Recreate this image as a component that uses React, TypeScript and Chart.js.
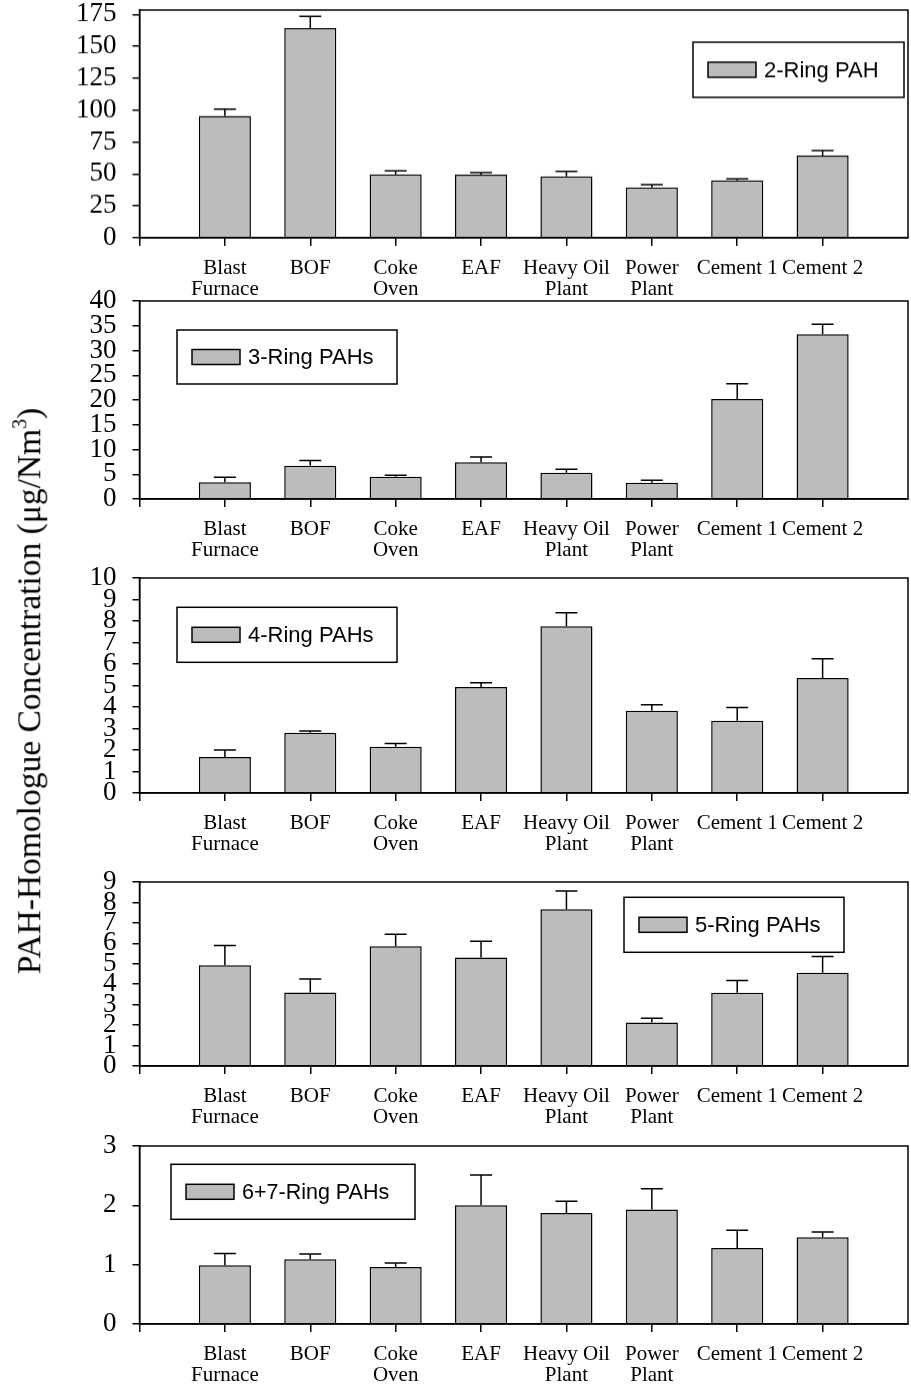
import React, { useEffect, useRef } from 'react';
import { Chart, registerables } from 'chart.js';

Chart.register(...registerables);

// ---------- data ----------
const categories = ['Blast Furnace', 'BOF', 'Coke Oven', 'EAF', 'Heavy Oil Plant', 'Power Plant', 'Cement 1', 'Cement 2'];
const categoryLines = [['Blast', 'Furnace'], ['BOF'], ['Coke', 'Oven'], ['EAF'], ['Heavy Oil', 'Plant'], ['Power', 'Plant'], ['Cement 1'], ['Cement 2']];

const ring2Values = [95.5, 164.3, 49.8, 49.5, 48.2, 39.4, 44.9, 64.5];
const ring2Errors = [5.3, 9.2, 2.6, 1.5, 3.8, 2.3, 1.2, 3.9];
const ring3Values = [3.4, 6.7, 4.5, 7.4, 5.3, 3.3, 20.2, 33.3];
const ring3Errors = [1.0, 1.1, 0.3, 1.1, 0.7, 0.5, 3.1, 2.0];
const ring4Values = [1.68, 2.8, 2.15, 4.93, 7.76, 3.82, 3.36, 5.35];
const ring4Errors = [0.32, 0.08, 0.15, 0.2, 0.62, 0.28, 0.62, 0.9];
const ring5Values = [4.93, 3.6, 5.86, 5.31, 7.67, 2.13, 3.58, 4.56];
const ring5Errors = [0.97, 0.65, 0.59, 0.79, 0.89, 0.2, 0.6, 0.8];
const ring67Values = [0.99, 1.09, 0.96, 2.0, 1.87, 1.93, 1.28, 1.46];
const ring67Errors = [0.2, 0.09, 0.07, 0.51, 0.2, 0.35, 0.3, 0.09];

const ticks2 = [0, 25, 50, 75, 100, 125, 150, 175];
const ticks3 = [0, 5, 10, 15, 20, 25, 30, 35, 40];
const ticks4 = [0, 1, 2, 3, 4, 5, 6, 7, 8, 9, 10];
const ticks5 = [0, 1, 2, 3, 4, 5, 6, 7, 8, 9];
const ticks67 = [0, 1, 2, 3];

const legend2 = '2-Ring PAH';
const legend3 = '3-Ring PAHs';
const legend4 = '4-Ring PAHs';
const legend5 = '5-Ring PAHs';
const legend67 = '6+7-Ring PAHs';

// ---------- styling / layout ----------
const BAR_FILL = '#bcbcbc';
const SERIF = '"Liberation Serif", "Times New Roman", Times, serif';
const SANS = '"Liberation Sans", Arial, Helvetica, sans-serif';
const PLOT_LEFT = 139.5;
const PLOT_RIGHT = 908;
const PAGE_W = 911;
const PAD_TOP = 16;
const XAXIS_H = 62;

type PanelDef = {
  values: number[];
  errors: number[];
  ticks: number[];
  yMax: number;
  top: number;
  bottom: number;
  legend: string;
  lg: { dx: number; dy: number; w: number; h: number };
};

const panels: PanelDef[] = [
  { values: ring2Values, errors: ring2Errors, ticks: ticks2, yMax: 178.4, top: 10, bottom: 237.5, legend: legend2, lg: { dx: 553.5, dy: 32, w: 211, h: 55 } },
  { values: ring3Values, errors: ring3Errors, ticks: ticks3, yMax: 40, top: 300.7, bottom: 499.3, legend: legend3, lg: { dx: 37.5, dy: 29, w: 220, h: 54 } },
  { values: ring4Values, errors: ring4Errors, ticks: ticks4, yMax: 10, top: 577.7, bottom: 793.3, legend: legend4, lg: { dx: 37.5, dy: 29.3, w: 220, h: 55 } },
  { values: ring5Values, errors: ring5Errors, ticks: ticks5, yMax: 9, top: 881.7, bottom: 1066, legend: legend5, lg: { dx: 484.5, dy: 15.3, w: 220, h: 55 } },
  { values: ring67Values, errors: ring67Errors, ticks: ticks67, yMax: 3, top: 1145.7, bottom: 1324, legend: legend67, lg: { dx: 31.5, dy: 18.3, w: 244, h: 55 } },
];

const decorPlugin = {
  id: 'decor',
  afterDatasetsDraw(chart: any) {
    const opts = chart.options.plugins.decor;
    const ctx = chart.ctx;
    const meta = chart.getDatasetMeta(0);
    const ds = chart.data.datasets[0];
    const yScale = chart.scales.y;
    ctx.save();
    ctx.strokeStyle = '#000';
    ctx.lineWidth = 1.5;
    (ds.errors as number[]).forEach((e, i) => {
      const idx = i + 1;
      const el = meta.data[idx];
      const v = ds.data[idx];
      if (!el || v == null) return;
      const x = el.x;
      const yTop = yScale.getPixelForValue(v + e);
      const yBar = yScale.getPixelForValue(v);
      ctx.beginPath();
      ctx.moveTo(x, yBar);
      ctx.lineTo(x, yTop);
      ctx.moveTo(x - 11, yTop);
      ctx.lineTo(x + 11, yTop);
      ctx.stroke();
    });
    // legend box
    const a = chart.chartArea;
    const lg = opts.lg;
    const bx = a.left + lg.dx;
    const by = a.top + lg.dy;
    ctx.fillStyle = '#fff';
    ctx.fillRect(bx, by, lg.w, lg.h);
    ctx.strokeRect(bx, by, lg.w, lg.h);
    const sx = bx + 15;
    const sy = by + lg.h / 2 - 7.5;
    ctx.fillStyle = BAR_FILL;
    ctx.fillRect(sx, sy, 48, 15);
    ctx.strokeRect(sx, sy, 48, 15);
    ctx.fillStyle = '#000';
    ctx.font = `${opts.fontSize}px ${SANS}`;
    ctx.textBaseline = 'middle';
    ctx.textAlign = 'left';
    ctx.fillText(opts.label, sx + 56, by + lg.h / 2 + 1);
    ctx.restore();
  },
  afterDraw(chart: any) {
    const a = chart.chartArea;
    const ctx = chart.ctx;
    ctx.save();
    ctx.strokeStyle = '#000';
    ctx.lineWidth = 1.5;
    ctx.strokeRect(a.left, a.top, a.right - a.left, a.bottom - a.top);
    ctx.restore();
  },
};

function Panel({ def }: { def: PanelDef }) {
  const ref = useRef<HTMLCanvasElement>(null);
  const height = PAD_TOP + (def.bottom - def.top) + XAXIS_H;
  useEffect(() => {
    if (!ref.current) return;
    const labels = ['', ...categoryLines, ''];
    const data = [null, ...def.values, null];
    const chart = new Chart(ref.current, {
      type: 'bar',
      data: {
        labels,
        datasets: [
          {
            data,
            errors: def.errors,
            backgroundColor: BAR_FILL,
            borderColor: '#000',
            borderWidth: 1.5,
            barPercentage: 0.61,
            categoryPercentage: 1,
          } as any,
        ],
      },
      options: {
        animation: false,
        responsive: false,
        devicePixelRatio: 1,
        layout: { padding: { left: 0, right: PAGE_W - PLOT_RIGHT, top: PAD_TOP, bottom: 0 } },
        plugins: {
          legend: { display: false },
          tooltip: { enabled: false },
          decor: { lg: def.lg, label: def.legend, fontSize: def.legend.length > 12 ? 21.5 : 22 },
        } as any,
        scales: {
          x: {
            type: 'category',
            offset: false,
            grid: {
              offset: false,
              drawOnChartArea: false,
              drawTicks: true,
              tickLength: 8,
              lineWidth: 1.5,
              color: (c: any) => (c.index === 9 ? 'rgba(0,0,0,0)' : '#000'),
            },
            border: { display: true, color: '#000', width: 1.5 },
            ticks: {
              autoSkip: false,
              maxRotation: 0,
              minRotation: 0,
              padding: 12,
              color: '#000',
              font: { family: SERIF, size: 21, lineHeight: 1.0 },
            },
            afterFit: (s: any) => {
              s.height = XAXIS_H;
              s.paddingLeft = 0;
              s.paddingRight = 0;
              s.paddingTop = 0;
              s.paddingBottom = 0;
            },
          },
          y: {
            type: 'linear',
            min: 0,
            max: def.yMax,
            grid: {
              drawOnChartArea: false,
              drawTicks: true,
              tickLength: 7,
              lineWidth: 1.5,
              color: '#000',
            },
            border: { display: true, color: '#000', width: 1.5 },
            ticks: {
              autoSkip: false,
              padding: 16,
              color: '#000',
              font: { family: SERIF, size: 27 },
            },
            afterBuildTicks: (s: any) => {
              s.ticks = def.ticks.map((v) => ({ value: v }));
            },
            afterFit: (s: any) => {
              s.width = PLOT_LEFT;
              s.paddingTop = 0;
              s.paddingBottom = 0;
              s.paddingLeft = 0;
              s.paddingRight = 0;
            },
          },
        },
      } as any,
      plugins: [decorPlugin],
    });
    return () => chart.destroy();
  }, [def]);
  return (
    <canvas
      ref={ref}
      width={PAGE_W}
      height={height}
      style={{ position: 'absolute', left: 0, top: def.top - PAD_TOP, width: PAGE_W, height }}
    />
  );
}

export default function App() {
  return (
    <div style={{ position: 'absolute', left: 0, top: 0, width: PAGE_W, height: 1389, background: '#fff', overflow: 'hidden' }}>
      {panels.map((p, i) => (
        <Panel key={i} def={p} />
      ))}
      <div
        style={{
          position: 'absolute',
          left: 29,
          top: 691,
          transform: 'translate(-50%, -50%) rotate(-90deg)',
          whiteSpace: 'nowrap',
          fontFamily: SERIF,
          fontSize: 33.5,
          color: '#000',
          lineHeight: 1,
        }}
      >
        PAH-Homologue Concentration (μg/Nm<sup style={{ fontSize: '0.6em', verticalAlign: '0.7em', lineHeight: 0 }}>3</sup>)
      </div>
    </div>
  );
}
